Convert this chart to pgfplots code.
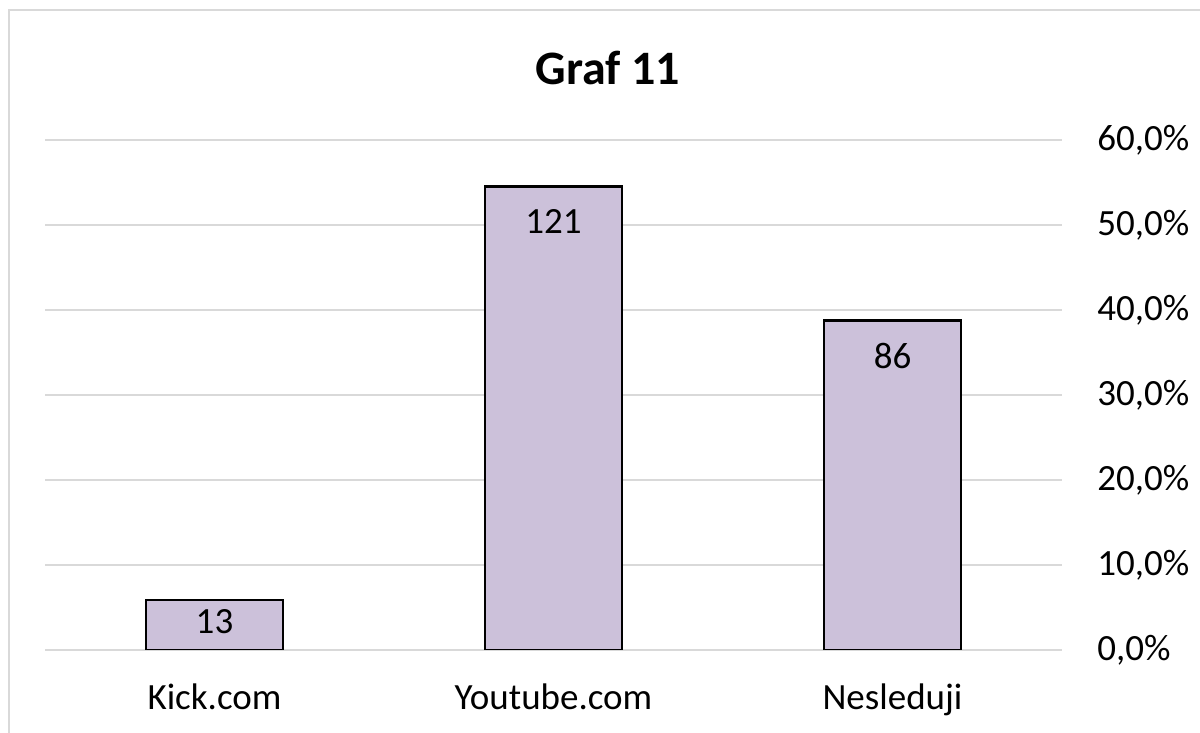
\documentclass[border=0pt]{standalone}
\usepackage{pgfplots}
\pgfplotsset{compat=1.18}
\usepackage{fontspec}
\setmainfont{Carlito}
\definecolor{cBar}{HTML}{CCC1DA}
\definecolor{cGrid}{HTML}{D9D9D9}

\begin{document}
\begin{tikzpicture}
% page = 1200x733 px at 0.5pt per px, origin at the plot box corner
\useasboundingbox (-22.5pt,-41.5pt) rectangle (577.5pt,325pt);
\draw[cGrid, line width=1pt] (-18pt,-60pt) -- (-18pt,320pt) -- (620pt,320pt);
\begin{axis}[
  scale only axis,
  width=508.5pt, height=255pt,
  at={(0,0)}, anchor=south west,
  xmin=-0.5, xmax=2.5, ymin=0, ymax=60,
  ybar, bar width=68.5pt,
  axis line style={draw=none},
  major tick length=0pt,
  ymajorgrids, grid style={cGrid, line width=1pt},
  xtick={0,1,2},
  xticklabels={Kick.com,Youtube.com,Nesleduji},
  xticklabel style={font=\fontsize{18.5pt}{22pt}\selectfont, anchor=north, yshift=-13.5pt},
  ytick={0,10,20,30,40,50,60},
  yticklabels={{0,0\%},{10,0\%},{20,0\%},{30,0\%},{40,0\%},{50,0\%},{60,0\%}},
  yticklabel pos=right,
  yticklabel style={font=\fontsize{18.5pt}{22pt}\selectfont, anchor=west, inner sep=0pt, xshift=17.5pt},
]
% share of 222 answers: 13, 121, 86
\addplot[fill=cBar, draw=black, line width=1.3pt] coordinates {
  (0,5.86)
  (1,54.5)
  (2,38.74)
};
% data labels (counts)
\node[font=\fontsize{18.5pt}{22pt}\selectfont] at (axis cs:0,2.93) [yshift=1.5pt] {13};
\node[font=\fontsize{18.5pt}{22pt}\selectfont] at (axis cs:1,54.5) [yshift=-17.5pt] {121};
\node[font=\fontsize{18.5pt}{22pt}\selectfont] at (axis cs:2,38.74) [yshift=-17.5pt] {86};
\end{axis}
\node[font=\fontsize{24pt}{28pt}\selectfont\bfseries] at (281.5pt,291pt) {Graf 11};
\end{tikzpicture}
\end{document}
